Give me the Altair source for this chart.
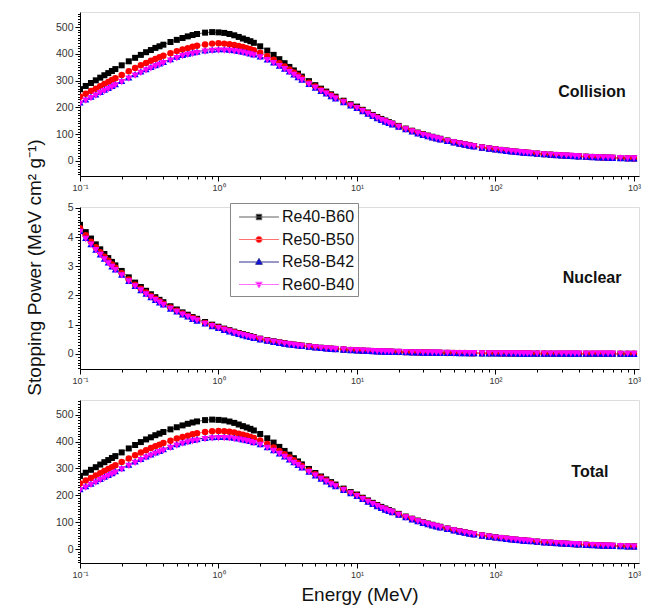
import altair as alt
import pandas as pd

FONT = "Liberation Sans"

series = ["Re40-B60", "Re50-B50", "Re58-B42", "Re60-B40"]
point_colors = ["#000000", "#ff0000", "#0000ff", "#ff00ff"]
line_colors = ["#606060", "#ff7070", "#303090", "#ff70ff"]
point_shapes = ["square", "circle", "triangle-up", "triangle-down"]
point_sizes = [36, 42, 52, 52]

energy = [0.1, 0.11, 0.12, 0.13, 0.14, 0.15, 0.16, 0.17, 0.18, 0.2, 0.225, 0.25, 0.275, 0.3, 0.325, 0.35, 0.375, 0.4, 0.45, 0.5, 0.55, 0.6, 0.65, 0.7, 0.8, 0.9,
          1, 1.1, 1.2, 1.3, 1.4, 1.5, 1.6, 1.7, 1.8, 2, 2.25, 2.5, 2.75, 3, 3.25, 3.5, 3.75, 4, 4.5, 5, 5.5, 6, 6.5, 7, 8, 9,
          10, 11, 12, 13, 14, 15, 16, 17, 18, 20, 22.5, 25, 27.5, 30, 32.5, 35, 37.5, 40, 45, 50, 55, 60, 65, 70, 80, 90,
          100, 110, 120, 130, 140, 150, 160, 170, 180, 200, 225, 250, 275, 300, 325, 350, 375, 400, 450, 500, 550, 600, 650, 700, 800, 900,
          1000]

# Collision stopping power (MeV cm2/g)
coll_re40 = [268, 280, 291, 301, 311, 320, 328, 336, 343, 357, 372, 385, 396, 406, 414, 422, 428, 434, 444, 452, 459, 465, 470, 474, 479, 481,
             480, 478, 474, 469, 463, 457, 452, 447, 441, 428, 412, 396, 380, 365, 351, 338, 326, 315, 298, 283, 270, 259, 249, 240, 225, 212,
             203, 191, 181, 172, 164, 157, 151, 145, 140, 131, 121, 113, 106, 100, 95, 90.5, 86.5, 83, 76.5, 71, 66.5, 62.5, 59, 56, 51, 47,
             44, 41.3, 39, 37, 35.2, 33.6, 32.2, 30.9, 29.8, 27.8, 25.7, 24, 22.5, 21.3, 20.2, 19.2, 18.4, 17.6, 16.3, 15.2, 14.3, 13.5, 12.8, 12.2, 11.2, 10.4,
             9.8]
coll_re50 = [240, 251, 261, 270, 279, 287, 295, 302, 309, 321, 335, 347, 357, 366, 374, 381, 387, 393, 402, 410, 416, 421, 426, 430, 435, 438,
             439, 438, 436, 433, 429, 425, 421, 417, 413, 404, 391, 378, 365, 353, 341, 330, 319, 309, 292, 278, 266, 255, 245, 236, 222, 209,
             199, 188, 178, 169, 161, 154, 148, 143, 138, 129, 119.5, 111.5, 104.5, 98.5, 93.5, 89, 85, 81.5, 75.5, 70, 65.5, 61.5, 58, 55, 50.2, 46.3,
             43.4, 40.8, 38.5, 36.6, 34.8, 33.2, 31.8, 30.6, 29.5, 27.5, 25.4, 23.7, 22.3, 21.1, 20, 19, 18.2, 17.4, 16.1, 15, 14.1, 13.3, 12.6, 12, 11, 10.2,
             9.6]
coll_re58 = [219, 230, 240, 249, 258, 266, 273, 280, 287, 299, 312, 324, 334, 343, 351, 358, 364, 370, 380, 389, 396, 401, 405, 408, 413, 416,
             417, 417, 416, 414, 411, 408, 405, 402, 398, 390, 379, 368, 356, 345, 334, 323, 313, 304, 288, 274, 262, 252, 242, 234, 220, 208,
             198, 186.5, 176.5, 168, 160, 153, 147, 142, 137, 128, 118.5, 110.5, 103.5, 97.5, 92.5, 88, 84.3, 81, 75, 69.5, 65, 61, 57.6, 54.6, 49.8, 46,
             43.1, 40.5, 38.2, 36.3, 34.5, 32.9, 31.5, 30.3, 29.2, 27.2, 25.2, 23.5, 22.1, 20.9, 19.8, 18.8, 18, 17.2, 15.9, 14.8, 13.9, 13.1, 12.4, 11.8, 10.9, 10.1,
             9.5]
coll_re60 = [214, 225, 235, 244, 253, 261, 268, 275, 282, 294, 307, 319, 329, 338, 346, 353, 359, 365, 375, 384, 391, 396, 400, 403, 408, 411,
             412, 412, 411, 409, 407, 404, 401, 398, 394, 387, 376, 365, 354, 343, 332, 321, 312, 302, 286, 273, 261, 251, 241, 233, 219, 207,
             197, 186, 176, 167, 159.5, 152.5, 146.5, 141, 136.5, 127.5, 118, 110, 103, 97, 92, 87.7, 84, 80.6, 74.6, 69.2, 64.7, 60.8, 57.3, 54.3, 49.6, 45.8,
             42.9, 40.3, 38, 36.1, 34.3, 32.7, 31.3, 30.1, 29, 27, 25, 23.3, 21.9, 20.7, 19.6, 18.7, 17.9, 17.1, 15.8, 14.7, 13.8, 13, 12.3, 11.7, 10.8, 10,
             9.4]

# Nuclear stopping power (MeV cm2/g)
nuc_re40 = [4.42, 4.17, 3.95, 3.75, 3.58, 3.42, 3.28, 3.15, 3.03, 2.84, 2.62, 2.44, 2.29, 2.16, 2.04, 1.94, 1.85, 1.77, 1.63, 1.52, 1.42, 1.34, 1.26, 1.20, 1.09, 1.00,
            0.93, 0.865, 0.81, 0.76, 0.715, 0.675, 0.64, 0.605, 0.575, 0.52, 0.47, 0.43, 0.395, 0.365, 0.34, 0.318, 0.3, 0.283, 0.255, 0.23, 0.21, 0.194, 0.18, 0.168, 0.149, 0.134,
            0.122, 0.112, 0.104, 0.097, 0.091, 0.086, 0.081, 0.077, 0.073, 0.067, 0.06, 0.055, 0.05, 0.047, 0.044, 0.041, 0.039, 0.037, 0.033, 0.030, 0.028, 0.026, 0.024, 0.022, 0.020, 0.018,
            0.0165, 0.015, 0.014, 0.013, 0.012, 0.0113, 0.0107, 0.0101, 0.0096, 0.0088, 0.0079, 0.0072, 0.0066, 0.0061, 0.0057, 0.0053, 0.005, 0.0047, 0.0043, 0.0039, 0.0036, 0.0033, 0.0031, 0.0029, 0.0026, 0.0023,
            0.0021]
nuc_re50 = [4.30, 4.06, 3.84, 3.65, 3.48, 3.33, 3.19, 3.06, 2.95, 2.76, 2.55, 2.37, 2.23, 2.10, 1.98, 1.89, 1.80, 1.72, 1.59, 1.48, 1.38, 1.30, 1.23, 1.17, 1.06, 0.97,
            0.905, 0.84, 0.79, 0.74, 0.695, 0.657, 0.623, 0.589, 0.56, 0.506, 0.457, 0.418, 0.384, 0.355, 0.331, 0.309, 0.292, 0.275, 0.248, 0.224, 0.204, 0.189, 0.175, 0.163, 0.145, 0.13,
            0.119, 0.109, 0.101, 0.094, 0.089, 0.084, 0.079, 0.075, 0.071, 0.065, 0.058, 0.054, 0.049, 0.046, 0.043, 0.04, 0.038, 0.036, 0.032, 0.029, 0.027, 0.025, 0.023, 0.021, 0.019, 0.0175,
            0.016, 0.0146, 0.0136, 0.0126, 0.0117, 0.011, 0.0104, 0.0098, 0.0093, 0.0086, 0.0077, 0.007, 0.0064, 0.0059, 0.0055, 0.0052, 0.0049, 0.0046, 0.0042, 0.0038, 0.0035, 0.0032, 0.003, 0.0028, 0.0025, 0.0022,
            0.002]
nuc_re58 = [4.21, 3.97, 3.76, 3.57, 3.41, 3.26, 3.13, 3.00, 2.89, 2.71, 2.50, 2.33, 2.18, 2.06, 1.94, 1.85, 1.76, 1.69, 1.55, 1.45, 1.35, 1.28, 1.20, 1.14, 1.04, 0.95,
            0.886, 0.824, 0.772, 0.724, 0.681, 0.643, 0.61, 0.577, 0.548, 0.496, 0.448, 0.41, 0.376, 0.348, 0.324, 0.303, 0.286, 0.27, 0.243, 0.219, 0.2, 0.185, 0.172, 0.16, 0.142, 0.128,
            0.116, 0.107, 0.099, 0.092, 0.087, 0.082, 0.077, 0.073, 0.07, 0.064, 0.057, 0.052, 0.048, 0.045, 0.042, 0.039, 0.037, 0.035, 0.031, 0.029, 0.027, 0.025, 0.023, 0.021, 0.019, 0.0172,
            0.0157, 0.0143, 0.0133, 0.0124, 0.0114, 0.0108, 0.0102, 0.0096, 0.0091, 0.0084, 0.0075, 0.0069, 0.0063, 0.0058, 0.0054, 0.0051, 0.0048, 0.0045, 0.0041, 0.0037, 0.0034, 0.0031, 0.003, 0.0028, 0.0025, 0.0022,
            0.002]
nuc_re60 = [4.18, 3.94, 3.74, 3.55, 3.39, 3.24, 3.10, 2.98, 2.87, 2.69, 2.48, 2.31, 2.17, 2.04, 1.93, 1.84, 1.75, 1.67, 1.54, 1.44, 1.34, 1.27, 1.19, 1.14, 1.03, 0.945,
            0.88, 0.818, 0.766, 0.719, 0.676, 0.639, 0.605, 0.572, 0.544, 0.492, 0.445, 0.407, 0.374, 0.345, 0.322, 0.301, 0.284, 0.268, 0.241, 0.218, 0.199, 0.184, 0.17, 0.159, 0.141, 0.127,
            0.115, 0.106, 0.098, 0.092, 0.086, 0.081, 0.077, 0.073, 0.069, 0.063, 0.057, 0.052, 0.047, 0.044, 0.042, 0.039, 0.037, 0.035, 0.031, 0.028, 0.026, 0.025, 0.023, 0.021, 0.019, 0.017,
            0.0156, 0.0142, 0.0132, 0.0123, 0.0114, 0.0107, 0.0101, 0.0096, 0.0091, 0.0083, 0.0075, 0.0068, 0.0062, 0.0058, 0.0054, 0.005, 0.0047, 0.0044, 0.0041, 0.0037, 0.0034, 0.0031, 0.0029, 0.0027, 0.0025, 0.0022,
            0.002]

coll_all = [coll_re40, coll_re50, coll_re58, coll_re60]
nuc_all = [nuc_re40, nuc_re50, nuc_re58, nuc_re60]
for arr in coll_all + nuc_all:
    assert len(arr) == len(energy), (len(arr), len(energy))

rows = []
for i, s in enumerate(series):
    for j, e in enumerate(energy):
        c = coll_all[i][j]
        n = nuc_all[i][j]
        rows.append({"series": s, "E": e, "coll": c, "nuc": n, "total": c + n})
df = pd.DataFrame(rows)

# axis tick positions
x_ticks = []
for p in [0.1, 1, 10, 100]:
    for k in range(1, 10):
        x_ticks.append(round(k * p, 6))
x_ticks.append(1000)
coll_ticks = list(range(-50, 551, 10))
nuc_ticks = [round(k / 10, 1) for k in range(-5, 51)]

W = 559
X_DOMAIN = [0.1, 1087]

AX_COMMON = dict(grid=False, domainColor="black", tickColor="black", labelColor="#333333",
                 labelFont=FONT, titleFont=FONT, titleColor="#111111", titleFontWeight="normal",
                 labelOverlap=False, labelFlush=False, domainWidth=1, tickWidth=1)

def x_axis(title):
    major = "abs(log(datum.value)/LN10 - round(log(datum.value)/LN10)) < 0.001"
    kw = dict(AX_COMMON)
    return alt.Axis(values=x_ticks,
                    labelExpr=major + " ? ['10\u207b\u00b9','10\u2070','10\u00b9','10\u00b2','10\u00b3'][round(log(datum.value)/LN10)+1] : ''",
                    tickSize={"condition": {"test": major, "value": 5}, "value": 3},
                    labelFontSize=9, labelPadding=2, titleFontSize=19, titlePadding=6,
                    title=title, **kw)

def y_axis(ticks, major, fmt, title=None, extra=None):
    kw = dict(AX_COMMON)
    if extra:
        kw.update(extra)
    return alt.Axis(values=ticks,
                    labelExpr=major + " ? format(datum.value, '" + fmt + "') : ''",
                    tickSize={"condition": {"test": major, "value": 5}, "value": 2.5},
                    labelFontSize=10.5, labelPadding=2, title=title, **kw)

legend_paths = [
    "M-1.9,0H1.9M-0.26,-0.26H0.26V0.26H-0.26Z",
    "M-1.9,0H1.9M0.3,0A0.3,0.3,0,1,1,-0.3,0A0.3,0.3,0,1,1,0.3,0Z",
    "M-1.9,0H1.9M0,-0.34L0.32,0.22L-0.32,0.22Z",
    "M-1.9,0H1.9M0,0.34L0.32,-0.22L-0.32,-0.22Z",
]

def panel(field, ydomain, yaxis, height, label, label_E, label_v, xtitle=None, with_legend=False):
    xenc = alt.X("E:Q", scale=alt.Scale(type="log", domain=X_DOMAIN), axis=x_axis(xtitle))
    yenc = alt.Y(f"{field}:Q", scale=alt.Scale(domain=ydomain, nice=False, zero=False), axis=yaxis)
    base = alt.Chart(df)
    layers = []
    for i, s in enumerate(series):
        layers.append(base.transform_filter(alt.datum.series == s)
                      .mark_line(color=line_colors[i], strokeWidth=1, clip=True)
                      .encode(x=xenc, y=yenc))
    for i, s in enumerate(series):
        layers.append(base.transform_filter(alt.datum.series == s)
                      .mark_point(shape=point_shapes[i], filled=True, color=point_colors[i],
                                  size=point_sizes[i], opacity=1, strokeWidth=0, clip=True)
                      .encode(x=xenc, y=yenc))
    lab_df = pd.DataFrame({"E": [label_E], field: [label_v], "txt": [label]})
    layers.append(alt.Chart(lab_df).mark_text(font=FONT, fontSize=16, fontWeight="bold",
                                              color="#111111", align="center", baseline="middle")
                  .encode(x=xenc, y=yenc, text="txt:N"))
    if with_legend:
        leg = alt.Legend(orient="none", legendX=150, legendY=191, title=None,
                         labelFont=FONT, labelFontSize=16, labelColor="#111111",
                         symbolSize=441, symbolStrokeWidth=1, padding=3,
                         strokeColor="#888888", fillColor="white",
                         symbolOffset=15, labelOffset=12, rowPadding=3.5, labelLimit=300)
        leg_df = pd.DataFrame({"series": series})
        layers.append(alt.Chart(leg_df).transform_filter("false")
                      .mark_point(filled=True, size=441, opacity=1)
                      .encode(shape=alt.Shape("series:N", scale=alt.Scale(domain=series, range=legend_paths), legend=leg),
                              fill=alt.Fill("series:N", scale=alt.Scale(domain=series, range=point_colors), legend=leg),
                              stroke=alt.Stroke("series:N", scale=alt.Scale(domain=series, range=line_colors), legend=leg)))
    return alt.layer(*layers).properties(width=W, height=height)

coll_axis = y_axis(coll_ticks, "datum.value % 100 == 0", "d")
nuc_axis = y_axis(nuc_ticks, "abs(datum.value - round(datum.value)) < 0.001", ".0f",
                  title="Stopping Power (MeV cm\u00b2 g\u207b\u00b9)",
                  extra=dict(titleFontSize=19, titleX=-35.5, titleY=60, titleAngle=-90))
tot_axis = y_axis(coll_ticks, "datum.value % 100 == 0", "d")

p1 = panel("coll", [-56, 556], coll_axis, 164, "Collision", 498, 257)
p2 = panel("nuc", [-0.52, 5.03], nuc_axis, 162, "Nuclear", 498, 2.6, with_legend=True)
p3 = panel("total", [-52, 555], tot_axis, 163, "Total", 480, 286, xtitle="Energy (MeV)")

chart = (alt.vconcat(p1, p2, p3, spacing=31, bounds="flush")
         .properties(padding={"left": 16, "top": 0, "right": 5, "bottom": 0})
         .configure_view(stroke=None)
         .configure(font=FONT))

chart.save("out.html", embed_options={"renderer": "svg", "actions": False})
